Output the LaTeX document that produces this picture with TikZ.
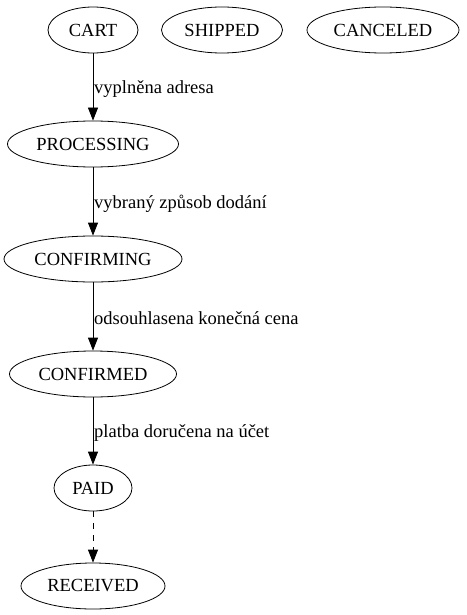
\documentclass[tikz,border=0pt]{standalone}
\usepackage{fontspec}
\setmainfont{Liberation Serif}
\usetikzlibrary{shapes.geometric,arrows.meta}

\tikzset{every picture/.style={line width=0.8pt}}
\tikzset{
  state/.style={draw,ellipse,inner sep=0pt,minimum height=46pt,font=\fontsize{18.5}{21}\selectfont},
  trans/.style={-{Triangle[length=13pt,width=10pt]}},
  lbl/.style={anchor=west,inner sep=0.75pt,yshift=-2pt,font=\fontsize{18.5}{21}\selectfont}
}

\begin{document}
\begin{tikzpicture}[x=1pt,y=1pt,yscale=-1]
\useasboundingbox (0,0) rectangle (466,615);

% Text Node
\draw (93,30) node (cart) [state,minimum width=90pt] {CART};
% Text Node
\draw (222,30) node (shipped) [state,minimum width=121pt] {SHIPPED};
% Text Node
\draw (383,30) node (canceled) [state,minimum width=152pt] {CANCELED};
% Text Node
\draw (93,144) node (processing) [state,minimum width=171pt] {PROCESSING};
% Text Node
\draw (93,259) node (confirming) [state,minimum width=178pt] {CONFIRMING};
% Text Node
\draw (93,374) node (confirmed) [state,minimum width=167pt] {CONFIRMED};
% Text Node
\draw (93,488) node (paid) [state,minimum width=78pt] {PAID};
% Text Node
\draw (93,586) node (received) [state,minimum width=144pt] {RECEIVED};

%Straight Lines
\draw [trans] (cart) -- node [lbl] {vyplněna adresa} (processing);
%Straight Lines
\draw [trans] (processing) -- node [lbl] {vybraný způsob dodání} (confirming);
%Straight Lines
\draw [trans] (confirming) -- node [lbl] {odsouhlasena konečná cena} (confirmed);
%Straight Lines
\draw [trans] (confirmed) -- node [lbl] {platba doručena na účet} (paid);
%Straight Lines
\draw [trans,dash pattern=on 6pt off 6pt] (paid) -- (received);

\end{tikzpicture}
\end{document}
